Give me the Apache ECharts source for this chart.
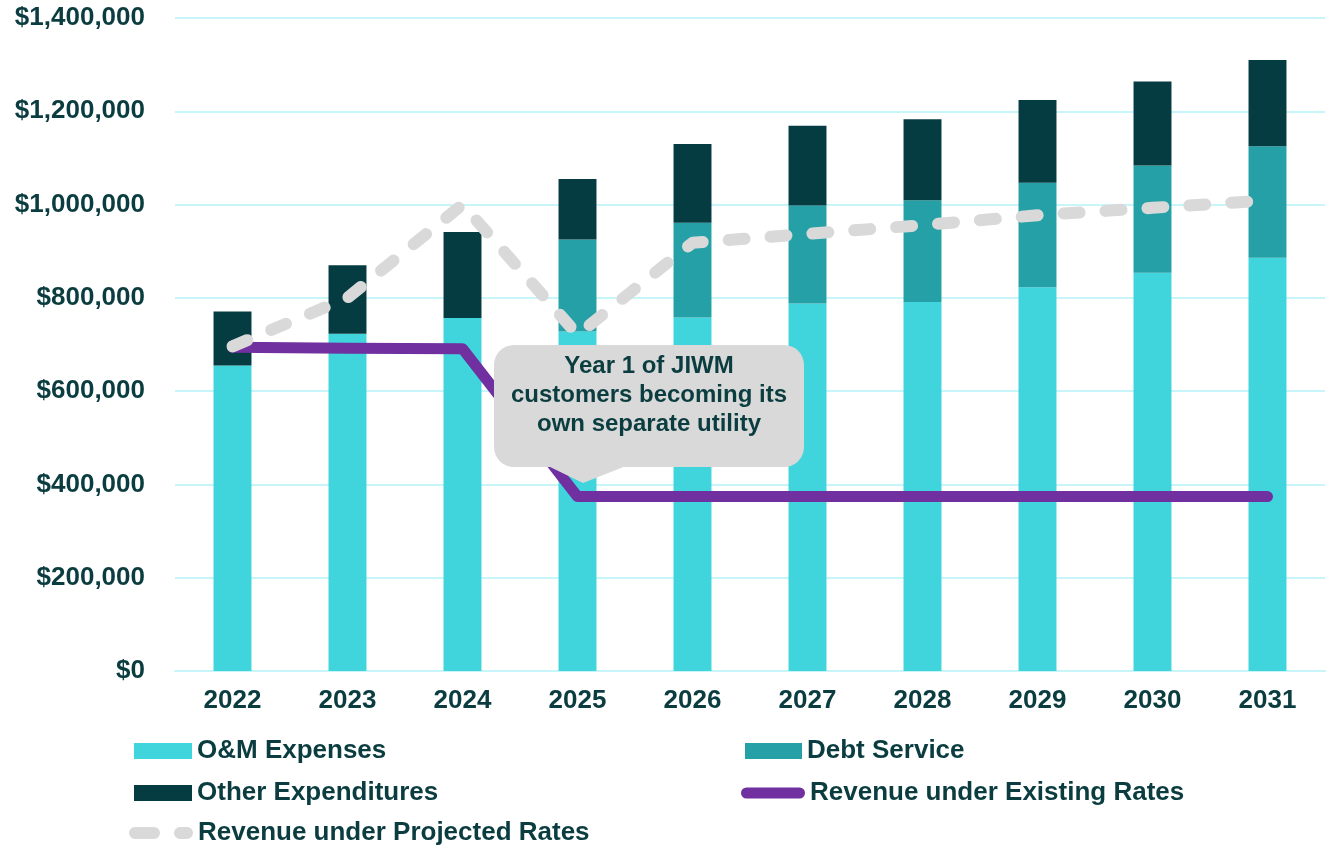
<!DOCTYPE html>
<html>
<head>
<meta charset="utf-8">
<script src="https://cdn.jsdelivr.net/npm/echarts@6/dist/echarts.min.js"></script>
<style>
  html, body { margin: 0; padding: 0; background: #fff; }
  #chart { width: 1330px; height: 848px; }
</style>
</head>
<body>
<div id="chart"></div>
<script>
// chart data
const years = ['2022', '2023', '2024', '2025', '2026', '2027', '2028', '2029', '2030', '2031'];
const omExpenses = [655000, 723000, 757000, 728000, 758000, 788000, 791000, 823000, 854000, 886000];
const debtService = [0, 0, 0, 197000, 203000, 210000, 218000, 224000, 230000, 239000];
const otherExpenditures = [116000, 147000, 184000, 130000, 169000, 171000, 174000, 177000, 180000, 185000];
const revenueExisting = [694000, 692000, 691000, 374000, 374000, 374000, 374000, 374000, 374000, 374000];
const revenueProjected = [696000, 800000, 1000000, 721000, 918000, 937000, 956000, 977000, 993000, 1009000];
const yTicks = [0, 200000, 400000, 600000, 800000, 1000000, 1200000, 1400000];

const textColor = '#0B3D40';
const font = 'Liberation Sans';
const gridColor = '#C8F5F9';

let myChart = echarts.init(document.getElementById('chart'));

function legendFor(name, left, top, width, height, icon) {
    return {
        left: left,
        top: top,
        padding: 0,
        itemWidth: width,
        itemHeight: height,
        selectedMode: false,
        itemStyle: { borderWidth: 0 },
        textStyle: { color: textColor, fontFamily: font, fontWeight: 'bold', fontSize: 26, lineHeight: 30 },
        data: [{ name: name, icon: icon }]
    };
}

myChart.setOption({
    animation: false,
    textStyle: { fontFamily: font },
    grid: { left: 175, right: 5, top: 18, bottom: 177 },
    legend: [
        legendFor('O&M Expenses', 134, 736, 58, 16, 'rect'),
        legendFor('Debt Service', 745, 736, 57, 16, 'rect'),
        legendFor('Other Expenditures', 134, 778, 58, 16, 'rect'),
        legendFor('Revenue under Existing Rates', 741, 778, 64, 11,
            'path://M5.5,0H58.5A5.5,5.5,0,0,1,58.5,11H5.5A5.5,5.5,0,0,1,5.5,0Z'),
        legendFor('Revenue under Projected Rates', 129, 818, 64, 12,
            'path://M6,0H25A6,6,0,0,1,25,12H6A6,6,0,0,1,6,0ZM51,0H58A6,6,0,0,1,58,12H51A6,6,0,0,1,51,0Z')
    ],
    xAxis: {
        type: 'category',
        data: years,
        axisLine: { lineStyle: { color: gridColor, width: 2 } },
        axisTick: { show: false },
        axisLabel: { color: textColor, fontFamily: font, fontWeight: 'bold', fontSize: 26, margin: 17 }
    },
    yAxis: {
        type: 'value',
        min: yTicks[0],
        max: yTicks[yTicks.length - 1],
        interval: yTicks[1] - yTicks[0],
        axisLine: { show: false },
        axisTick: { show: false },
        splitLine: { lineStyle: { color: gridColor, width: 2 } },
        axisLabel: {
            color: textColor,
            fontFamily: font,
            fontWeight: 'bold',
            fontSize: 26,
            margin: 30,
            formatter: function (v) { return '$' + v.toLocaleString('en-US'); }
        }
    },
    series: [
        {
            name: 'O&M Expenses',
            type: 'bar',
            stack: 'cost',
            barWidth: '33%',
            itemStyle: { color: '#40D4DC' },
            data: omExpenses
        },
        {
            name: 'Debt Service',
            type: 'bar',
            stack: 'cost',
            itemStyle: { color: '#24A0A6' },
            data: debtService
        },
        {
            name: 'Other Expenditures',
            type: 'bar',
            stack: 'cost',
            itemStyle: { color: '#053C41' },
            data: otherExpenditures
        },
        {
            name: 'Revenue under Existing Rates',
            type: 'line',
            symbol: 'none',
            itemStyle: { color: '#7030A0' },
            lineStyle: { color: '#7030A0', width: 11, cap: 'round', join: 'round' },
            z: 3,
            data: revenueExisting
        },
        {
            name: 'Revenue under Projected Rates',
            type: 'line',
            symbol: 'none',
            itemStyle: { color: '#D9D9D9' },
            lineStyle: { color: '#D9D9D9', width: 12, type: [16, 26], cap: 'round', join: 'round' },
            z: 4,
            data: revenueProjected
        }
    ],
    // callout bubble over the 2025 drop
    graphic: [
        {
            type: 'rect',
            z: 100,
            shape: { x: 494, y: 345, width: 310, height: 122, r: 20 },
            style: { fill: '#D9D9D9' }
        },
        {
            type: 'polygon',
            z: 100,
            shape: { points: [[548, 466], [626, 466], [583, 483]] },
            style: { fill: '#D9D9D9' }
        },
        {
            type: 'text',
            z: 101,
            x: 649,
            y: 352,
            style: {
                text: 'Year 1 of JIWM\ncustomers becoming its\nown separate utility',
                fill: textColor,
                font: 'bold 24px "Liberation Sans"',
                lineHeight: 29,
                align: 'center',
                verticalAlign: 'top'
            }
        }
    ]
});
</script>
</body>
</html>
